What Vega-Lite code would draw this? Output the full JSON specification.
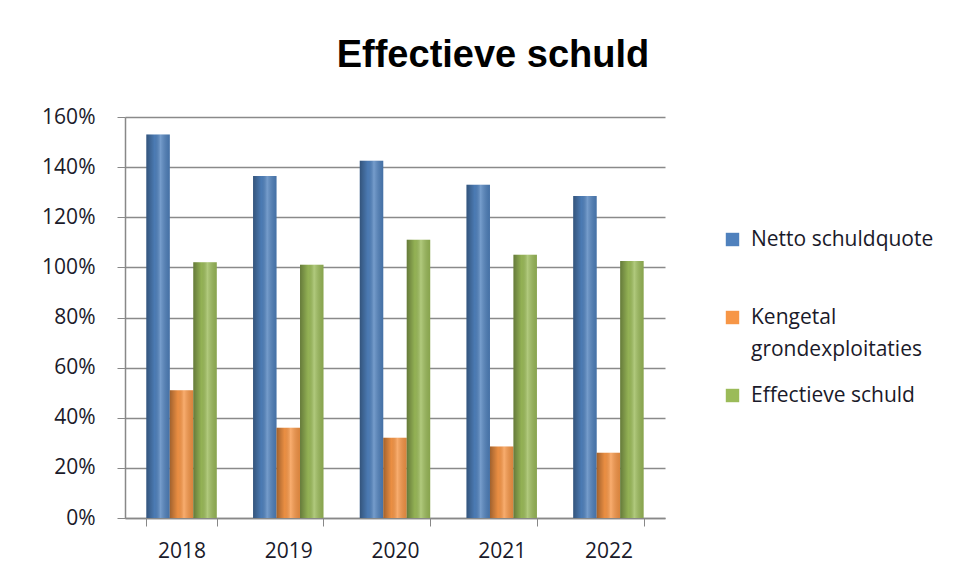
{
  "$schema": "https://vega.github.io/schema/vega-lite/v6.json",
  "width": 540,
  "height": 401,
  "autosize": {"type": "none"},
  "padding": {"left": 125, "top": 117, "right": 291, "bottom": 66},
  "background": "white",
  "title": {
    "text": "Effectieve schuld",
    "font": "Liberation Sans",
    "fontSize": 38,
    "fontWeight": "bold",
    "color": "#000000",
    "anchor": "middle",
    "frame": "group",
    "dx": 98,
    "offset": 31
  },
  "data": {
    "values": [
      {"jaar": "2018", "reeks": "Netto schuldquote", "waarde": 153},
      {"jaar": "2018", "reeks": "Kengetal grondexploitaties", "waarde": 51},
      {"jaar": "2018", "reeks": "Effectieve schuld", "waarde": 102},
      {"jaar": "2019", "reeks": "Netto schuldquote", "waarde": 136.5},
      {"jaar": "2019", "reeks": "Kengetal grondexploitaties", "waarde": 36},
      {"jaar": "2019", "reeks": "Effectieve schuld", "waarde": 101},
      {"jaar": "2020", "reeks": "Netto schuldquote", "waarde": 142.5},
      {"jaar": "2020", "reeks": "Kengetal grondexploitaties", "waarde": 32},
      {"jaar": "2020", "reeks": "Effectieve schuld", "waarde": 111},
      {"jaar": "2021", "reeks": "Netto schuldquote", "waarde": 133},
      {"jaar": "2021", "reeks": "Kengetal grondexploitaties", "waarde": 28.5},
      {"jaar": "2021", "reeks": "Effectieve schuld", "waarde": 105},
      {"jaar": "2022", "reeks": "Netto schuldquote", "waarde": 128.5},
      {"jaar": "2022", "reeks": "Kengetal grondexploitaties", "waarde": 26},
      {"jaar": "2022", "reeks": "Effectieve schuld", "waarde": 102.5}
    ]
  },
  "encoding": {
    "x": {
      "field": "jaar",
      "type": "nominal",
      "title": null,
      "scale": {"paddingInner": 0.34, "paddingOuter": 0.2},
      "axis": {
        "labelAngle": 0,
        "labelFont": "Open Sans",
        "labelFontSize": 21,
        "labelColor": "#1a1a2a",
        "labelPadding": 14,
        "tickSize": 8,
        "tickColor": "#888888",
        "domainColor": "#888888",
        "domainWidth": 1.5,
        "tickBand": "extent",
        "grid": false
      }
    },
    "xOffset": {
      "field": "reeks",
      "type": "nominal",
      "scale": {"domain": ["Netto schuldquote", "Kengetal grondexploitaties", "Effectieve schuld"], "paddingInner": 0, "paddingOuter": 0}
    },
    "y": {
      "field": "waarde",
      "type": "quantitative",
      "title": null,
      "scale": {"domain": [0, 160], "nice": false},
      "axis": {
        "values": [0, 20, 40, 60, 80, 100, 120, 140, 160],
        "labelExpr": "datum.value + '%'",
        "labelFont": "Open Sans",
        "labelFontSize": 21,
        "labelColor": "#1a1a2a",
        "labelPadding": 22,
        "tickSize": 8,
        "tickColor": "#888888",
        "domainColor": "#888888",
        "domainWidth": 1.5,
        "gridColor": "#8a8a8a",
        "gridWidth": 1.5
      }
    }
  },
  "layer": [
    {
      "mark": {"type": "bar"},
      "encoding": {
        "color": {
          "field": "reeks",
          "type": "nominal",
          "title": null,
          "scale": {
            "domain": ["Netto schuldquote", "Kengetal grondexploitaties", "Effectieve schuld"],
            "range": ["#4F81BD", "#F79646", "#9BBB59"]
          },
          "legend": {
            "orient": "none",
            "legendX": 597,
            "legendY": 112,
            "symbolType": "square",
            "symbolSize": 180,
            "symbolStrokeWidth": 0,
            "labelFont": "Open Sans",
            "labelFontSize": 21,
            "labelColor": "#1a1a2a",
            "labelLimit": 300,
            "labelBaseline": "middle",
            "labelOffset": 8,
            "rowPadding": 24,
            "labelExpr": "datum.label == 'Kengetal grondexploitaties' ? ['Kengetal', 'grondexploitaties'] : datum.label == 'Netto schuldquote' ? ['Netto schuldquote', ''] : datum.label"
          }
        }
      }
    },
    {
      "mark": {
        "type": "bar",
        "color": {
          "gradient": "linear",
          "x1": 0, "y1": 0, "x2": 1, "y2": 0,
          "stops": [
            {"offset": 0, "color": "rgba(0,0,0,0.35)"},
            {"offset": 0.35, "color": "rgba(0,0,0,0.05)"},
            {"offset": 0.6, "color": "rgba(255,255,255,0.22)"},
            {"offset": 1, "color": "rgba(0,0,0,0.12)"}
          ]
        }
      }
    }
  ],
  "config": {
    "view": {"stroke": null},
    "style": {"guide-label": {"lineHeight": 32}}
  }
}
